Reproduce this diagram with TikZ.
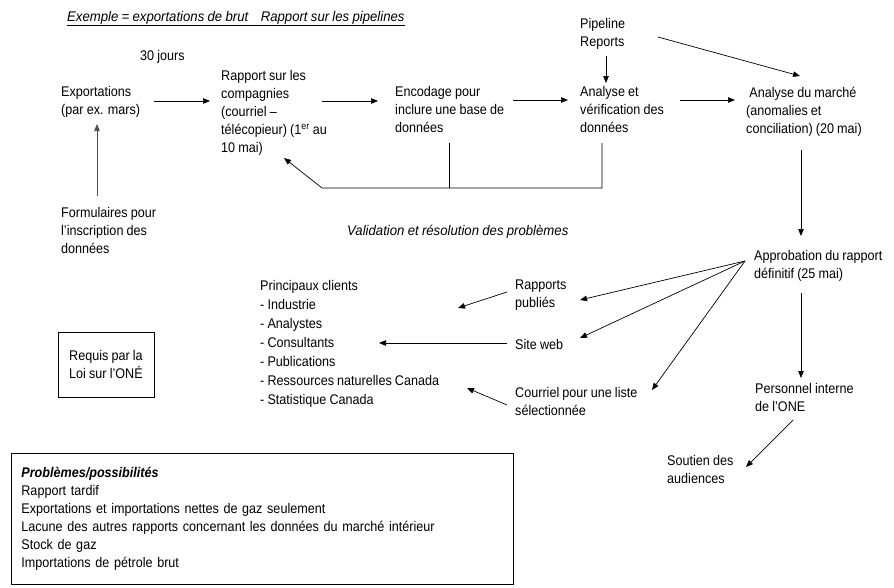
\documentclass[tikz,border=0pt]{standalone}
\usepackage{fontspec}
\setmainfont{Liberation Sans}[FakeStretch=0.9, WordSpace=0.9,
  ItalicFeatures={FakeStretch=0.94}, BoldItalicFeatures={FakeStretch=0.9}]
\usetikzlibrary{arrows.meta}
\begin{document}
\begin{tikzpicture}[x=1pt,y=-1pt,
  txt/.style={anchor=north west, inner sep=0pt, align=left, font=\fontsize{14}{18}\selectfont},
  arr/.style={-{Triangle[length=7pt,width=5.5pt]}, line width=0.7pt},
  ln/.style={line width=0.7pt},
  framed/.style={draw, line width=0.8pt, inner sep=0pt, font=\fontsize{14}{18}\selectfont}]
\useasboundingbox (0,0) rectangle (894,587);

% header and free captions
\node[txt, font=\fontsize{14}{18}\selectfont\itshape] (head) at (67,11)
  {\underline{Exemple = exportations de brut\hspace{0.9em}Rapport sur les pipelines}};
\node[txt] (jours) at (140,50) {30 jours};
\node[txt, font=\fontsize{14}{18}\selectfont\itshape] (valid) at (347,225)
  {Validation et résolution des problèmes};

% main chain
\node[txt] (exp) at (61,86) {Exportations\\(par ex. mars)};
\node[txt] (rap) at (221,70) {Rapport sur les\\compagnies\\(courriel –\\télécopieur) (1\textsuperscript{er} au\\10 mai)};
\node[txt] (enc) at (395,86) {Encodage pour\\inclure une base de\\données};
\node[txt] (ana) at (580,86) {Analyse et\\vérification des\\données};
\node[txt] (pipe) at (580,18) {Pipeline\\Reports};
\node[txt] (mkt) at (746,87) {\ Analyse du marché\\(anomalies et\\conciliation) (20 mai)};
\node[txt] (form) at (61,207) {Formulaires pour\\l’inscription des\\données};

% approval and distribution
\node[txt] (appr) at (754,250) {Approbation du rapport\\définitif (25 mai)};
\node[txt] (pub) at (515,280) {Rapports\\publiés};
\node[txt] (web) at (515,339) {Site web};
\node[txt] (mail) at (515,387) {Courriel pour une liste\\sélectionnée};
\node[txt, font=\fontsize{14}{19}\selectfont] (cli) at (260,280)
  {Principaux clients\\- Industrie\\- Analystes\\- Consultants\\- Publications\\- Ressources naturelles Canada\\- Statistique Canada};
\node[txt] (pers) at (755,383) {Personnel interne\\de l’ONE};
\node[txt] (sout) at (667,455) {Soutien des\\audiences};

% boxed notes
\node[framed, minimum width=96pt, minimum height=65pt, align=left] (loi) at (106,364.5)
  {Requis par la\\Loi sur l’ONÉ};
\node[framed, anchor=north west, minimum width=502pt, minimum height=131pt,
  text width=482pt, inner xsep=10pt, align=left] (prob) at (11,453)
  {\textbf{\textit{Problèmes/possibilités}}\\Rapport tardif\\Exportations et importations nettes de gaz seulement\\Lacune des autres rapports concernant les données du marché intérieur\\Stock de gaz\\Importations de pétrole brut};

% connectors along the chain
\draw[arr] ([shift={(93,15)}]exp.north west) -- ([shift={(-11,31)}]rap.north west);
\draw[arr] ([shift={(101,31)}]rap.north west) -- ([shift={(-17,15)}]enc.north west);
\draw[arr] ([shift={(118,14)}]enc.north west) -- ([shift={(-12,14)}]ana.north west);
\draw[arr] ([shift={(100,14)}]ana.north west) -- ([shift={(-11,13)}]mkt.north west);
\draw[arr] ([shift={(26,38)}]pipe.north west) -- ([shift={(26,-3)}]ana.north west);
\draw[arr] ([shift={(78,19)}]pipe.north west) -- ([shift={(54,-11)}]mkt.north west);
\draw[arr, draw=black!70] ([shift={(36,-11)}]form.north west) -- ([shift={(36,38)}]exp.north west);

% validation loop back to the company report
\coordinate (loop) at ([shift={(101,118)}]rap.north west);
\coordinate (encdrop) at ([shift={(54,57)}]enc.north west);
\coordinate (anadrop) at ([shift={(22,57)}]ana.north west);
\draw[ln] (encdrop) -- (encdrop |- loop);
\draw[arr] (anadrop) -- (anadrop |- loop) -- (loop) -- ([shift={(63,88)}]rap.north west);

% market analysis to approval and beyond
\draw[arr] ([shift={(55,63)}]mkt.north west) -- ([shift={(47,-14)}]appr.north west);
\coordinate (fan) at ([shift={(-9,11)}]appr.north west);
\draw[arr] (fan) -- ([shift={(65,20)}]pub.north west);
\draw[arr] (fan) -- ([shift={(65,-1)}]web.north west);
\draw[arr] (fan) -- ([shift={(137,3)}]mail.north west);
\draw[arr] ([shift={(47,43)}]appr.north west) -- ([shift={(46,-5)}]pers.north west);
\draw[arr] ([shift={(38,37)}]pers.north west) -- ([shift={(79,12)}]sout.north west);

% distribution channels to the clients
\draw[arr] ([shift={(-8,12)}]pub.north west) -- ([shift={(198,28)}]cli.north west);
\draw[arr] ([shift={(-8,4)}]web.north west) -- ([shift={(119,63)}]cli.north west);
\draw[arr] ([shift={(-8,18)}]mail.north west) -- ([shift={(207,108)}]cli.north west);
\end{tikzpicture}
\end{document}
